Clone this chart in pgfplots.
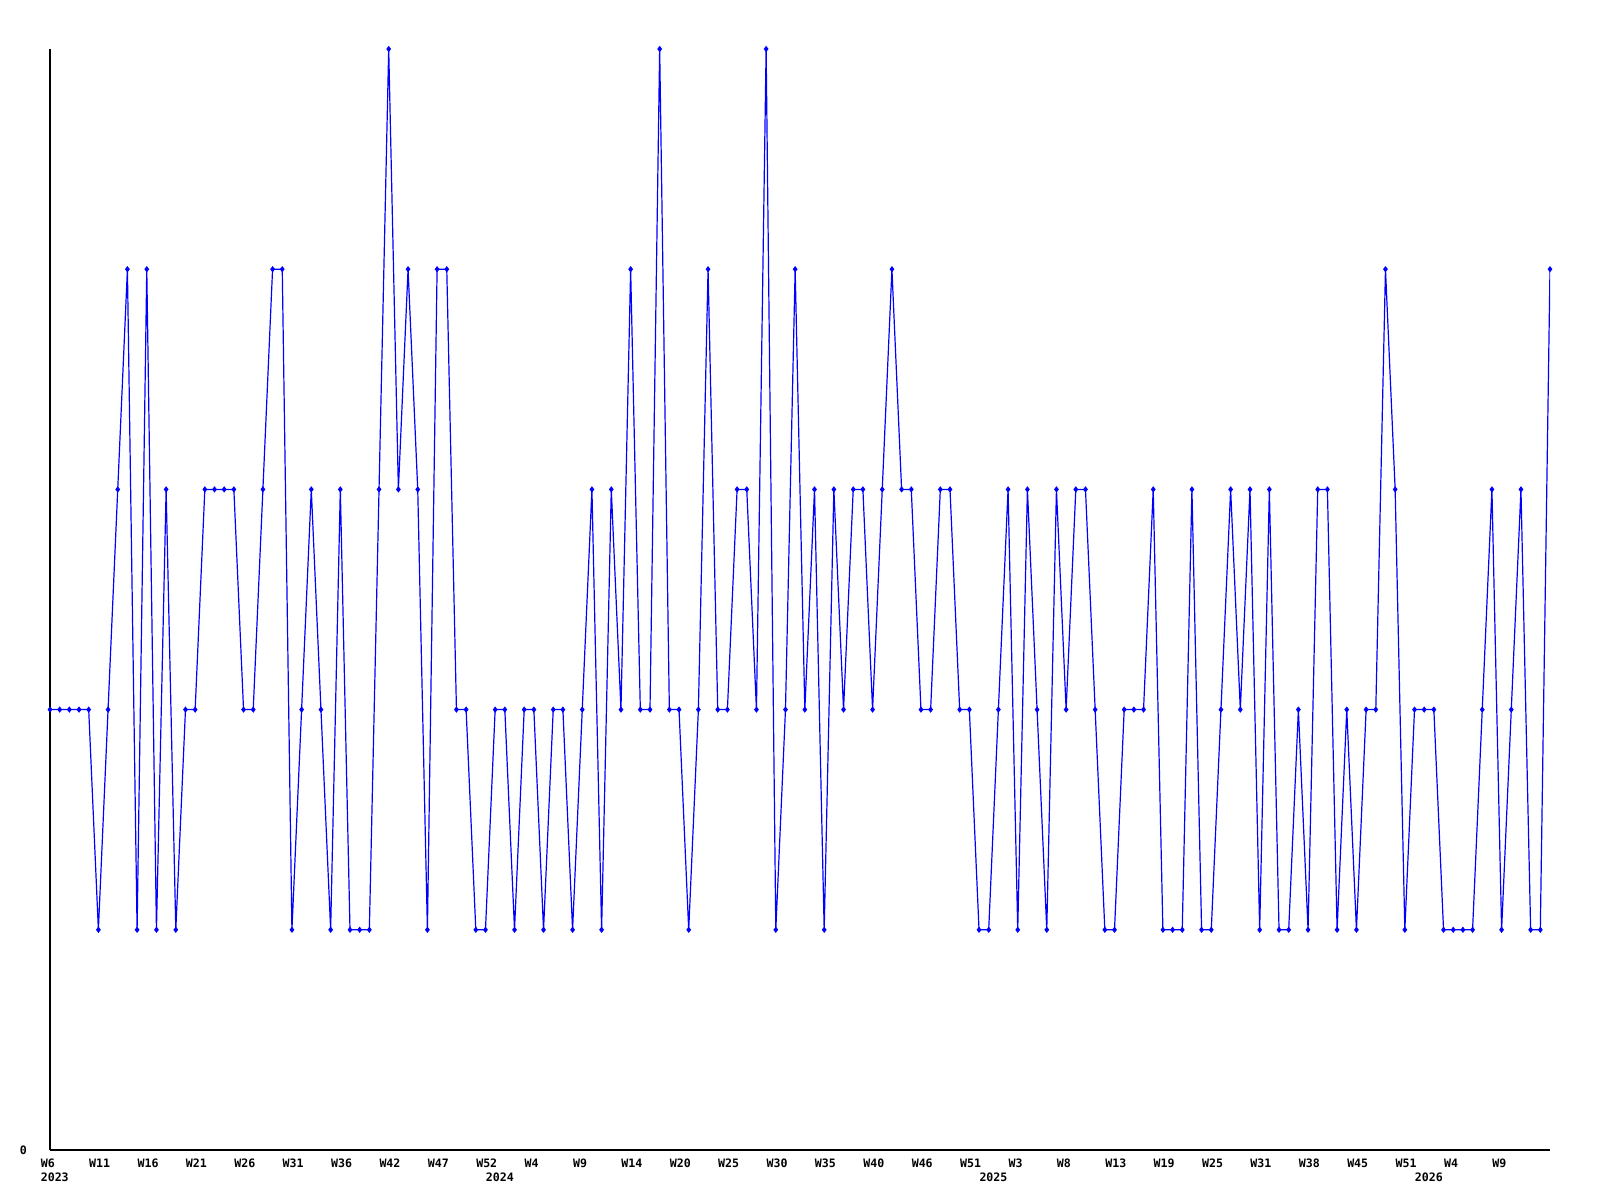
\documentclass[border=0pt]{standalone}
\usepackage{fontspec}
\setmainfont{DejaVu Sans Mono}
\usepackage{pgfplots}
\pgfplotsset{compat=1.18}
\begin{document}
\begin{tikzpicture}
\path[use as bounding box] (-12.5pt,-12.5pt) rectangle (387.5pt,287.5pt);
\begin{axis}[
  at={(0pt,0pt)}, anchor=south west,
  scale only axis, width=375pt, height=275.25pt,
  xmin=0, xmax=155, ymin=0, ymax=5,
  axis lines=left,
  axis line style={-, line width=0.28pt, black},
  major tick length=0pt,
  xtick={0,5,...,150},
  xticklabels={W6,W11,W16,W21,W26,W31,W36,W42,W47,W52,W4,W9,W14,W20,W25,W30,W35,W40,W46,W51,W3,W8,W13,W19,W25,W31,W38,W45,W51,W4,W9},
  ytick={0}, yticklabels={0},
  tick label style={font=\fontsize{2.9}{3}\selectfont\bfseries},
  xticklabel style={anchor=north west, inner sep=0pt, xshift=-2.5pt, yshift=-2.1pt},
  yticklabel style={anchor=east, inner sep=0pt, xshift=-5.6pt},
  extra x ticks={0,46,97,142},
  extra x tick labels={2023,2024,2025,2026},
  extra x tick style={major tick length=0pt, xticklabel style={yshift=-3.45pt}},
  clip mode=individual,
]
\addplot[color={rgb,255:red,0;green,0;blue,255}, line width=0.3pt, mark=diamond*, mark size=0.55pt, mark options={solid}]
coordinates {
(0,2)(1,2)(2,2)(3,2)(4,2)(5,1)(6,2)(7,3)(8,4)(9,1)
(10,4)(11,1)(12,3)(13,1)(14,2)(15,2)(16,3)(17,3)(18,3)(19,3)
(20,2)(21,2)(22,3)(23,4)(24,4)(25,1)(26,2)(27,3)(28,2)(29,1)
(30,3)(31,1)(32,1)(33,1)(34,3)(35,5)(36,3)(37,4)(38,3)(39,1)
(40,4)(41,4)(42,2)(43,2)(44,1)(45,1)(46,2)(47,2)(48,1)(49,2)
(50,2)(51,1)(52,2)(53,2)(54,1)(55,2)(56,3)(57,1)(58,3)(59,2)
(60,4)(61,2)(62,2)(63,5)(64,2)(65,2)(66,1)(67,2)(68,4)(69,2)
(70,2)(71,3)(72,3)(73,2)(74,5)(75,1)(76,2)(77,4)(78,2)(79,3)
(80,1)(81,3)(82,2)(83,3)(84,3)(85,2)(86,3)(87,4)(88,3)(89,3)
(90,2)(91,2)(92,3)(93,3)(94,2)(95,2)(96,1)(97,1)(98,2)(99,3)
(100,1)(101,3)(102,2)(103,1)(104,3)(105,2)(106,3)(107,3)(108,2)(109,1)
(110,1)(111,2)(112,2)(113,2)(114,3)(115,1)(116,1)(117,1)(118,3)(119,1)
(120,1)(121,2)(122,3)(123,2)(124,3)(125,1)(126,3)(127,1)(128,1)(129,2)
(130,1)(131,3)(132,3)(133,1)(134,2)(135,1)(136,2)(137,2)(138,4)(139,3)
(140,1)(141,2)(142,2)(143,2)(144,1)(145,1)(146,1)(147,1)(148,2)(149,3)
(150,1)(151,2)(152,3)(153,1)(154,1)(155,4)
};
\end{axis}
\end{tikzpicture}
\end{document}
